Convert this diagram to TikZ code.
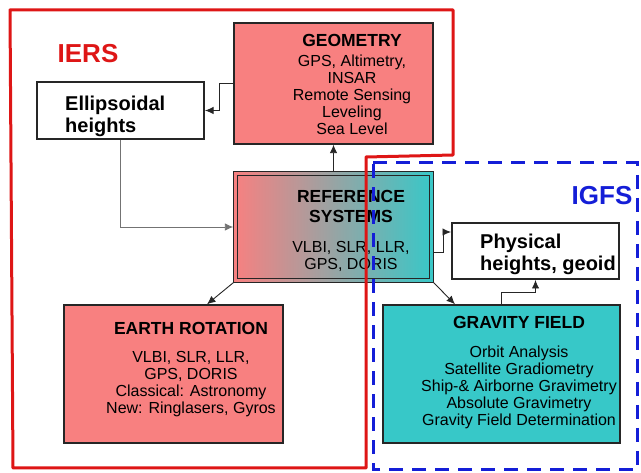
\documentclass[tikz,border=0pt]{standalone}
\usepackage{fontspec}
\setmainfont{Liberation Sans}
\usetikzlibrary{arrows.meta}

\definecolor{salmon}{RGB}{248,128,128}
\definecolor{tealfill}{RGB}{55,200,200}
\definecolor{midgray}{RGB}{172,168,168}
\definecolor{iersred}{RGB}{222,22,22}
\definecolor{igfsblue}{RGB}{20,30,215}

\begin{document}
\begin{tikzpicture}[x=1pt, y=-1pt, >={Latex[length=8.5pt,width=7.5pt]},
  box/.style={draw=black!85, line width=1.4pt, inner sep=0pt},
  pinkbox/.style={box, fill=salmon},
  tealbox/.style={box, fill=tealfill},
  whitebox/.style={box, fill=white, line width=2pt},
  title/.style={font=\fontsize{17.5}{20}\selectfont\bfseries, inner sep=0pt, align=center},
  body/.style={font=\fontsize{16}{17}\selectfont, inner sep=0pt, align=center},
  bigtext/.style={font=\fontsize{20}{22}\selectfont\bfseries, inner sep=0pt, align=left},
  service/.style={font=\fontsize{26}{28}\selectfont\bfseries, inner sep=0pt},
  link/.style={->, black!85, line width=0.9pt}]

  \useasboundingbox (0,0) rectangle (641,473);

  % Boxes
  \node[pinkbox, minimum width=199pt, minimum height=121pt] (geo) at (333.5,83.5) {};
  \node[whitebox, minimum width=167pt, minimum height=57pt] (ell) at (120.5,110.5) {};
  \node[box, minimum width=199pt, minimum height=110pt] (ref) at (333.5,227) {};
  \shade[left color=salmon, middle color=midgray, right color=tealfill]
    (ref.south west) rectangle (ref.north east);
  \draw[black!85, line width=1.4pt] (ref.south west) rectangle (ref.north east);
  \draw[black!85, line width=1.2pt]
    ([shift={(4pt,4pt)}]ref.south west) rectangle ([shift={(-4pt,-4pt)}]ref.north east);
  \node[pinkbox, minimum width=219pt, minimum height=138pt] (earth) at (173.5,374) {};
  \node[tealbox, minimum width=237pt, minimum height=138pt] (grav) at (501.5,374) {};
  \node[whitebox, minimum width=167pt, minimum height=56pt] (phys) at (535.5,251) {};

  % Texts
  \node[title, anchor=base] (geot) at (352,47) {GEOMETRY};
  \node[body, anchor=north] (geob) at (352,54.5)
    {GPS, Altimetry,\\INSAR\\Remote Sensing\\Leveling\\Sea Level};
  \node[bigtext, anchor=north west] (ellt) at (65,95.5) {Ellipsoidal\\heights};
  \node[title, anchor=north] (reft) at (351,190) {REFERENCE\\SYSTEMS};
  \node[body, anchor=north] (refb) at (351,241.5) {VLBI, SLR, LLR,\\GPS, DORIS};
  \node[bigtext, anchor=north west] (physt) at (480,233.5) {Physical\\heights, geoid};
  \node[title, anchor=base] (eartht) at (191,335) {EARTH ROTATION};
  \node[body, anchor=north] (earthb) at (191,351.5)
    {VLBI, SLR, LLR,\\GPS, DORIS\\Classical: Astronomy\\New: Ringlasers, Gyros};
  \node[title, anchor=base] (gravt) at (519,329) {GRAVITY FIELD};
  \node[body, anchor=north] (gravb) at (519,345.5)
    {Orbit Analysis\\Satellite Gradiometry\\Ship-\& Airborne Gravimetry\\Absolute Gravimetry\\Gravity Field Determination};

  % Connectors
  \draw[link] (geo.west) -- ++(-14,0) |- (ell.east);
  \draw[link, black!55] (ell.south) |- (ref.west);
  \draw[link] (ref.north) -- (geo.south);
  \draw[link] (ref.south west) -- ([xshift=33.5pt]earth.north);
  \draw[link] (ref.south east) -- ([xshift=-46.5pt]grav.north);
  \draw[link] ([yshift=-25pt]ref.east) -- ++(10,0) |- ([yshift=19pt]phys.west);
  \draw[link] (grav.north) -- ++(0,-12) -| (phys.south);

  % IERS and IGFS outlines, over the reference systems box
  \draw[iersred, line width=3pt, line join=round]
    (10,10) -- (453,10) -- (453,155) -- (366,157) -- (366,468) -- (13,468) -- cycle;
  \node[service, iersred, anchor=base] (iers) at (88,63) {IERS};
  \draw[igfsblue, line width=3pt, dash pattern=on 14pt off 9pt]
    (373,163) -- (637,163) -- (637,470) -- (373,470) -- cycle;
  \node[service, igfsblue, anchor=base] (igfs) at (602,205) {IGFS};

\end{tikzpicture}
\end{document}
